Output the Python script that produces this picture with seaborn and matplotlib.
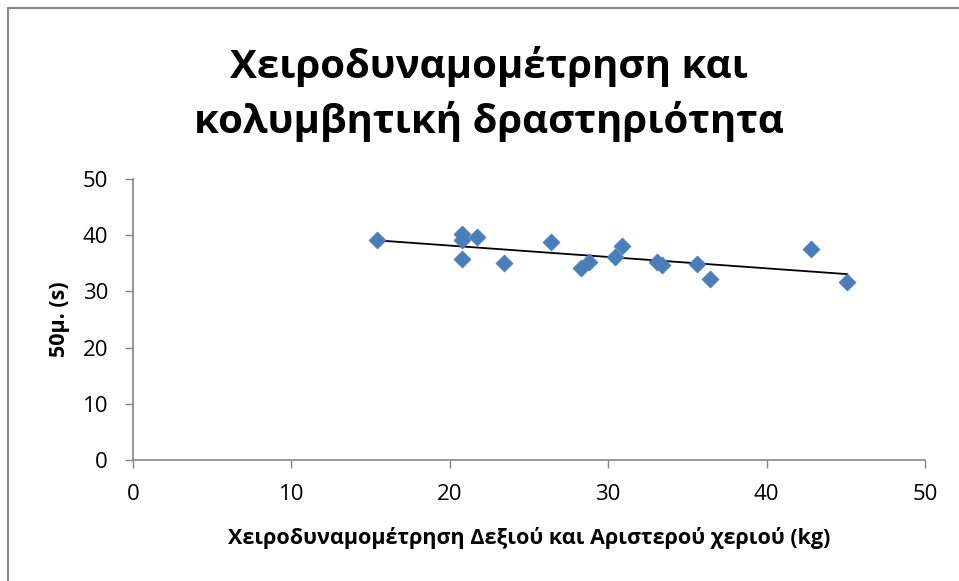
import matplotlib
matplotlib.use("Agg")
import matplotlib.pyplot as plt
from matplotlib.lines import Line2D
import seaborn as sns
import pandas as pd

# Hand dynamometry (kg) vs 50 m swim time (s)
grip_kg = [15.4, 20.8, 20.8, 21.7, 20.8, 23.4, 26.4, 28.3, 28.8,
           30.4, 30.9, 33.1, 33.4, 35.6, 36.4, 42.8, 45.1]
time_50m = [39.1, 40.2, 39.1, 39.6, 35.8, 35.0, 38.8, 34.1, 35.2,
            36.2, 38.1, 35.3, 34.7, 34.8, 32.2, 37.6, 31.6]

title_lines = ["Χειροδυναμομέτρηση και", "κολυμβητική δραστηριότητα"]
xlabel_text = "Χειροδυναμομέτρηση Δεξιού και Αριστερού χεριού (kg)"
ylabel_text = "50μ. (s)"
ticks = [0, 10, 20, 30, 40, 50]

df = pd.DataFrame({"grip": grip_kg, "time": time_50m})

sns.set_theme(style="white")
plt.rcParams["font.family"] = ["Open Sans", "DejaVu Sans"]
plt.rcParams["text.color"] = "black"

W, H = 959, 581
fig = plt.figure(figsize=(W / 100, H / 100), dpi=100)
ax = fig.add_axes([133 / W, 1 - 460 / H, (925 - 133) / W, (460 - 179) / H])

sns.regplot(data=df, x="grip", y="time", scatter=False, ci=None, ax=ax,
            line_kws={"color": "black", "linewidth": 1.3})
sns.scatterplot(data=df, x="grip", y="time", marker="D", s=75,
                color="#4A7EBB", edgecolor="#4A7EBB", linewidth=0.5,
                ax=ax, zorder=3)

ax.set_xlim(0, 50)
ax.set_ylim(0, 50)
ax.set_xticks(ticks)
ax.set_yticks(ticks)
ax.tick_params(axis="both", which="major", direction="out", length=6,
               width=1, color="#868686", labelsize=16, labelcolor="black",
               left=True, bottom=True)
ax.tick_params(axis="y", pad=12)
ax.tick_params(axis="x", pad=11)
for side in ("top", "right"):
    ax.spines[side].set_visible(False)
for side in ("left", "bottom"):
    ax.spines[side].set_color("#868686")
    ax.spines[side].set_linewidth(1.2)

ax.set_xlabel(xlabel_text, fontsize=15.5, fontweight="bold", color="black")
ax.set_ylabel(ylabel_text, fontsize=15.5, fontweight="bold", color="black")
ax.xaxis.set_label_coords(0.5, -(538 - 460) / 281)
ax.xaxis.label.set_va("center")
ax.yaxis.set_label_coords(-(133 - 60) / 792, 0.5)
ax.yaxis.label.set_va("center")

# two-line chart title, positioned by baseline
for line, base_y in zip(title_lines, (78, 133)):
    fig.text(489 / W, 1 - base_y / H, line, ha="center", va="baseline",
             fontsize=29, fontweight="bold", color="black")

# chart-area frame
fig.add_artist(Line2D([8 / W, 8 / W], [0, 1 - 8 / H],
                      transform=fig.transFigure, color="#868686", lw=1.5))
fig.add_artist(Line2D([8 / W, 1], [1 - 8 / H, 1 - 8 / H],
                      transform=fig.transFigure, color="#868686", lw=1.5))

fig.savefig("out.png", dpi=100)
